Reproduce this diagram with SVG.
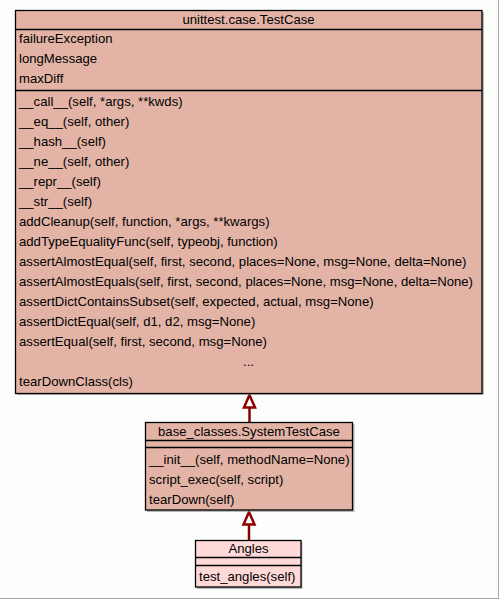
<svg xmlns="http://www.w3.org/2000/svg" width="499" height="599" viewBox="0 0 499 599">
<style>
text{font-family:"Liberation Sans",Arial,Helvetica,sans-serif;font-size:13.15px;fill:#000}
.c{text-anchor:middle}
.box{fill:#e3b4a6;stroke:#000;stroke-width:1.3}
.boxl{fill:#ffd8d8;stroke:#000;stroke-width:1.3}
.sh{fill:#888;opacity:0.6}
.sep{stroke:#000;stroke-width:1.3}
.edge{stroke:#8b0000;stroke-width:2.5;fill:none}
.head{fill:#fff;stroke:#8b0000;stroke-width:2.5}
</style>
<rect x="0" y="0" width="499" height="599" fill="#fcfefc"/>
<line x1="498.5" y1="0" x2="498.5" y2="599" stroke="#a8a8a8"/>
<line x1="0" y1="598.5" x2="499" y2="598.5" stroke="#a8a8a8"/>
<g id="connectors">
<line class="edge" x1="249.5" y1="422" x2="249.5" y2="407"/>
<polygon class="head" points="249.5,395 244,407.5 255,407.5"/>
<line class="edge" x1="249" y1="540" x2="249" y2="524"/>
<polygon class="head" points="249,512 243.5,524.5 254.5,524.5"/>
</g>
<g id="node-TestCase">
<rect class="sh" x="17" y="12" width="467" height="383"/>
<rect class="box" x="15.5" y="10.5" width="466.5" height="383"/>
<line class="sep" x1="15.5" y1="29.5" x2="482" y2="29.5"/>
<line class="sep" x1="15.5" y1="90.5" x2="482" y2="90.5"/>
<text class="c" x="248.5" y="24">unittest.case.TestCase</text>
<text x="19" y="43">failureException</text>
<text x="19" y="63">longMessage</text>
<text x="19" y="83">maxDiff</text>
<text x="19" y="106">__call__(self, *args, **kwds)</text>
<text x="19" y="126">__eq__(self, other)</text>
<text x="19" y="146">__hash__(self)</text>
<text x="19" y="166">__ne__(self, other)</text>
<text x="19" y="186">__repr__(self)</text>
<text x="19" y="206">__str__(self)</text>
<text x="19" y="226">addCleanup(self, function, *args, **kwargs)</text>
<text x="19" y="246">addTypeEqualityFunc(self, typeobj, function)</text>
<text x="19" y="266">assertAlmostEqual(self, first, second, places=None, msg=None, delta=None)</text>
<text x="19" y="286">assertAlmostEquals(self, first, second, places=None, msg=None, delta=None)</text>
<text x="19" y="306">assertDictContainsSubset(self, expected, actual, msg=None)</text>
<text x="19" y="326">assertDictEqual(self, d1, d2, msg=None)</text>
<text x="19" y="346">assertEqual(self, first, second, msg=None)</text>
<text class="c" x="248.5" y="366">...</text>
<text x="19" y="386">tearDownClass(cls)</text>
</g>
<g id="node-SystemTestCase">
<rect class="sh" x="147" y="424" width="207.5" height="88"/>
<rect class="box" x="145.5" y="422.5" width="207" height="87.5"/>
<line class="sep" x1="145.5" y1="440.5" x2="352.5" y2="440.5"/>
<line class="sep" x1="145.5" y1="447.5" x2="352.5" y2="447.5"/>
<text class="c" x="249" y="436">base_classes.SystemTestCase</text>
<text x="149" y="464">__init__(self, methodName=None)</text>
<text x="149" y="484">script_exec(self, script)</text>
<text x="149" y="504">tearDown(self)</text>
</g>
<g id="node-Angles">
<rect class="sh" x="197" y="542" width="105.5" height="47"/>
<rect class="boxl" x="195.5" y="540.5" width="105.5" height="46.5"/>
<line class="sep" x1="195.5" y1="557.5" x2="301" y2="557.5"/>
<line class="sep" x1="195.5" y1="565.5" x2="301" y2="565.5"/>
<text class="c" x="248.5" y="553">Angles</text>
<text x="199" y="581">test_angles(self)</text>
</g>
</svg>
